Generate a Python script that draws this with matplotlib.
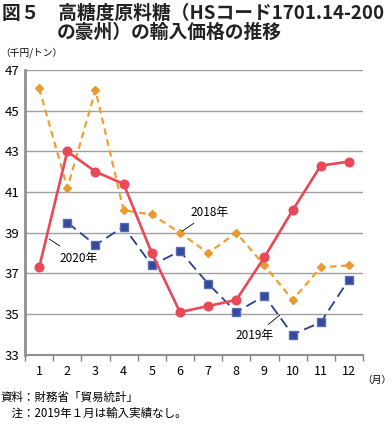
import matplotlib.pyplot as plt

plt.rcParams['font.family'] = ['Noto Sans CJK JP', 'DejaVu Sans']

months = list(range(1, 13))
month_labels = [str(m) for m in months]

# 千円/トン
y2018 = [46.1, 41.2, 46.0, 40.1, 39.9, 39.0, 38.0, 39.0, 37.4, 35.7, 37.3, 37.4]
y2019_months = list(range(2, 13))  # 2019年1月は輸入実績なし
y2019 = [39.5, 38.4, 39.3, 37.4, 38.1, 36.5, 35.1, 35.9, 34.0, 34.6, 36.7]
y2020 = [37.3, 43.0, 42.0, 41.4, 38.0, 35.1, 35.4, 35.7, 37.8, 40.1, 42.3, 42.5]

yticks = [33, 35, 37, 39, 41, 43, 45, 47]

fig = plt.figure(figsize=(3.92, 4.24), dpi=100)
ax = fig.add_axes([0.064, 0.163, 0.862, 0.672])

for y in yticks[1:]:
    ax.axhline(y, color='#a0a0a0', lw=1.0, zorder=0)

ax.plot(months, y2018, color='#f0a030', lw=1.6, ls=(0, (3, 2)),
        marker='D', ms=4.5, mfc='#e89a35', mec='#e89a35', zorder=2)
ax.plot(y2019_months, y2019, color='#2c3e8c', lw=1.3, ls=(0, (6, 3)),
        marker='s', ms=5.8, mfc='#34489c', mec='#5a6cb8', zorder=3)
ax.plot(months, y2020, color='#e84858', lw=1.9,
        marker='o', ms=6.2, mfc='#e84858', mec='#e84858', zorder=4)

ax.set_xlim(0.5, 12.5)
ax.set_ylim(33, 47)
ax.set_yticks(yticks)
ax.set_xticks(months)
ax.set_xticklabels(month_labels)
ax.set_xticks([m + 0.5 for m in range(0, 13)], minor=True)
ax.tick_params(axis='x', which='major', length=0, labelsize=9, pad=7)
ax.tick_params(axis='x', which='minor', length=4, width=1, color='#808080', direction='out')
ax.tick_params(axis='y', length=0, labelsize=9.5, pad=4)

for s in ['top', 'right']:
    ax.spines[s].set_visible(False)
ax.spines['left'].set_color('#909090')
ax.spines['left'].set_linewidth(2)
ax.spines['bottom'].set_color('#909090')
ax.spines['bottom'].set_linewidth(1.5)

# series labels
ax.annotate('2018年', xy=(6.0, 39.0), xytext=(7.05, 40.0), fontsize=8.5,
            ha='center', va='center',
            arrowprops=dict(arrowstyle='-', color='black', lw=0.6, shrinkA=2, shrinkB=2))
ax.annotate('2020年', xy=(1.35, 38.7), xytext=(2.4, 37.75), fontsize=8.5,
            ha='center', va='center',
            arrowprops=dict(arrowstyle='-', color='black', lw=0.6, shrinkA=4, shrinkB=0))
ax.annotate('2019年', xy=(9.54, 34.95), xytext=(8.65, 33.95), fontsize=8.5,
            ha='center', va='center',
            arrowprops=dict(arrowstyle='-', color='black', lw=0.6, shrinkA=2, shrinkB=0))

fig.text(0.005, 0.968, '図５　高糖度原料糖（HSコード1701.14-200', fontsize=13.5,
         fontweight='bold', ha='left', va='center', color='#222222')
fig.text(0.145, 0.923, 'の豪州）の輸入価格の推移', fontsize=13.5,
         fontweight='bold', ha='left', va='center', color='#222222')
fig.text(0.0, 0.877, '（千円/トン）', fontsize=7, ha='left', va='center')
fig.text(0.998, 0.105, '（月）', fontsize=7, ha='right', va='center')
fig.text(0.0, 0.062, '資料：財務省「貿易統計」', fontsize=8.3, ha='left', va='center')
fig.text(0.0, 0.026, '　注：2019年１月は輸入実績なし。', fontsize=8.3, ha='left', va='center')

fig.savefig('out.png', dpi=100)
